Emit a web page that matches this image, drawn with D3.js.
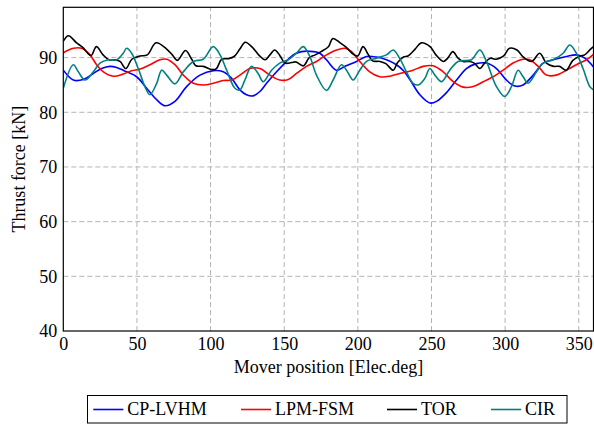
<!DOCTYPE html>
<html lang="en">
  <head>
    <meta charset="utf-8">
    <title>Thrust force</title>
    <style>
      body { margin: 0; background: #fff; }
      svg { display: block; font-family: 'Liberation Serif', 'DejaVu Serif', serif; }
    </style>
  </head>
  <body>
    <svg></svg>
    <script src="https://cdn.jsdelivr.net/npm/d3@7/dist/d3.min.js"></script>
    <script>
    // series names / colours
    var seriesNames = ['CP-LVHM', 'LPM-FSM', 'TOR', 'CIR'];
    var seriesColors = ['#0000ff', '#ff0000', '#000000', '#008080'];

    var xTicks = [0, 50, 100, 150, 200, 250, 300, 350];
    var yTicks = [40, 50, 60, 70, 80, 90];

    // [mover position, thrust force]
    var cpLvhm = [[0,87.7],[6.8,85.9],[13.6,86.0],[20.4,87.1],[26,88.0],[31.7,88.4],[36.2,88.2],[43,87.4],[49.8,86.5],[56.6,84.4],
      [63.4,82.3],[69,81.2],[75.8,82.0],[83.7,84.7],[92.8,86.8],[101.8,87.6],[108.6,87.4],[114.3,86.2],[119.9,84.1],[124.4,83.2],
      [128.9,83.0],[133.5,83.8],[138,85.3],[144.8,87.4],[150.4,89.0],[156.1,90.5],[161.7,91.1],[169.7,91.1],[174.2,90.8],[178.7,89.6],
      [185.5,87.7],[191.2,88.4],[199.1,89.3],[205.9,90.2],[212.6,90.1],[219.4,89.6],[226.2,88.7],[231,87.6],[235.3,86.0],[242.1,83.2],
      [248.9,81.7],[253.4,82.0],[260.2,83.6],[267,85.9],[273.7,88.0],[280.5,88.9],[287.3,89.0],[294.1,88.0],[300.9,85.9],[306.6,84.8],
      [312.2,85.0],[319,86.8],[325.8,89.0],[332.6,89.6],[341.6,90.2],[348.4,90.5],[354.1,89.9],[360,88.3]];

    var lpmFsm = [[0,90.9],[6.8,91.7],[12.5,91.7],[18.1,90.5],[22.6,88.7],[27.2,87.4],[34,86.6],[40.7,87.0],[46.4,87.6],[52.1,87.9],
      [58.8,88.7],[65.6,89.6],[70.2,89.7],[75.8,88.7],[81.5,86.8],[88.3,85.3],[95,85.0],[101.8,85.3],[108.6,85.8],[114.3,85.9],
      [119.9,86.8],[126.7,88.0],[133.5,88.0],[140.3,86.8],[147,85.9],[152.7,86.0],[158.3,87.1],[165.1,88.4],[171.9,89.3],[178.7,90.5],
      [185.5,91.4],[191.2,91.7],[195.7,91.1],[201.3,89.3],[208.1,87.4],[214.9,86.5],[221.7,86.6],[228.5,87.1],[237.5,87.7],[244.3,88.4],
      [251.1,88.5],[257.9,87.4],[264.7,85.6],[271.5,84.6],[278.3,84.7],[285.1,85.6],[291.8,86.5],[298.6,87.7],[305.4,89.0],[312.2,89.7],
      [316.7,89.6],[322.4,88.4],[328,86.8],[334.8,86.8],[341.6,87.7],[348.4,88.7],[355.2,89.6],[360,90.6]];

    var tor = [[0,93.0],[3.5,94.0],[9,92.7],[13,91.9],[17,90.7],[19,90.4],[22.5,92.0],[27,90.5],[31,89.6],[35,89.6],
      [38.5,89.3],[42.5,88.0],[46.5,89.7],[52,90.3],[57,90.5],[63,92.7],[70,91.6],[74,90.5],[77.5,89.5],[83,91.3],
      [87,89.8],[90,88.5],[95,88.4],[101,87.8],[104,88.0],[107.5,89.7],[112,89.8],[116,90.2],[120,91.6],[123.5,92.8],
      [129,91.7],[133,90.4],[137,89.6],[140,90.4],[143.5,91.4],[147,90.4],[150.5,89.0],[155,89.1],[158,89.2],[163,88.5],
      [167,90.0],[171,90.5],[175,91.1],[180,92.0],[183,93.5],[188,92.7],[192,91.9],[197,90.6],[200,90.3],[203.5,92.0],
      [207,90.6],[210,89.4],[215,89.3],[219,88.9],[224,87.7],[227,89.1],[231,90.1],[234,90.3],[239,91.6],[243,92.7],
      [249,92.0],[253,90.5],[258,89.3],[261,89.9],[264.5,91.1],[268,89.9],[271.5,89.3],[276,89.3],[279,89.0],[283,88.0],
      [286,89.0],[290,89.9],[294,89.7],[299,90.3],[303,91.7],[308,91.4],[312,90.2],[318,89.3],[323.5,90.8],[328,89.0],
      [333,88.4],[337,88.4],[341.5,87.7],[346,89.5],[351,90.3],[354,90.5],[357.5,91.4],[360,92.0]];

    var cir = [[0,84.4],[6.8,88.7],[10.2,87.4],[14.7,85.9],[20.4,87.4],[24.9,89.0],[30.6,89.6],[36.2,89.6],[40.7,90.8],[43,91.7],
      [46.4,90.8],[50.9,88.0],[55.4,84.7],[58.8,83.2],[63.4,85.3],[66.8,87.7],[70.2,86.8],[75.8,85.2],[81.5,87.4],[88.3,89.3],
      [95,89.7],[101.8,92.0],[106.4,90.5],[110.9,87.7],[116.5,84.4],[119.9,84.1],[123.3,85.9],[127.8,88.4],[132.3,87.1],[135.7,85.6],
      [141.4,87.7],[147,89.0],[152.7,89.6],[158.3,90.8],[162.9,92.0],[167.4,90.2],[171.9,86.8],[178.7,84.0],[183.2,85.9],[188.9,88.7],
      [192.3,87.7],[196.8,85.9],[201.3,87.7],[205.9,89.3],[212.6,89.9],[219.4,90.5],[224,91.4],[228.5,89.8],[233,87.4],[237.5,85.3],
      [241,85.0],[245.5,86.2],[248.9,88.0],[252.3,86.8],[256.8,85.6],[262.4,87.7],[268.1,89.3],[277.1,89.6],[282.8,91.4],[287.3,89.3],
      [294.1,84.7],[299.8,82.9],[304.3,84.7],[308.8,87.7],[312.2,86.5],[315.6,85.3],[321.3,87.4],[325.8,89.0],[332.6,89.6],[339.4,90.8],
      [343.9,92.3],[348.4,90.8],[352.9,88.0],[357.5,84.7],[360,84.1]];

    var allSeries = [cpLvhm, lpmFsm, tor, cir];

    var width = 594, height = 424;
    // plot box (note: "top" is taken by window.top, so use own names)
    var plotL = 63.3, plotR = 593.5, plotT = 7.3, plotB = 331;

    var svg = d3.select('svg').attr('width', width).attr('height', height);

    var x = d3.scaleLinear().domain([0, 360]).range([plotL, plotR]);
    var y = d3.scaleLinear().domain([40, 99.2]).range([plotB, plotT]);

    // grid
    var grid = svg.append('g').attr('stroke', '#b4b4b4').attr('stroke-width', 1).attr('stroke-dasharray', '5,3');
    grid.selectAll('line.gx')
      .data(xTicks.filter(function(d){ return d > 0; }))
      .enter().append('line')
      .attr('x1', function(d){ return x(d); }).attr('x2', function(d){ return x(d); })
      .attr('y1', plotB).attr('y2', plotT);
    grid.selectAll('line.gy')
      .data(yTicks.filter(function(d){ return d > 40; }))
      .enter().append('line')
      .attr('y1', function(d){ return y(d); }).attr('y2', function(d){ return y(d); })
      .attr('x1', plotL).attr('x2', plotR);

    // curves
    svg.append('clipPath').attr('id', 'plotclip')
      .append('rect').attr('x', plotL).attr('y', plotT).attr('width', plotR - plotL).attr('height', plotB - plotT);

    var line = d3.line()
      .x(function(d){ return x(d[0]); })
      .y(function(d){ return y(d[1]); })
      .curve(d3.curveCatmullRom.alpha(0.5));

    svg.append('g').attr('clip-path', 'url(#plotclip)')
      .selectAll('path')
      .data(allSeries)
      .enter().append('path')
      .attr('d', line)
      .attr('fill', 'none')
      .attr('stroke', function(d, i){ return seriesColors[i]; })
      .attr('stroke-width', 1.6)
      .attr('stroke-linejoin', 'round');

    // axes (labels only, frame drawn separately)
    var xAxis = d3.axisBottom(x).tickValues(xTicks).tickSize(0).tickPadding(6).tickFormat(d3.format('d'));
    var gx = svg.append('g').attr('transform', 'translate(0,' + plotB + ')').call(xAxis);
    var yAxis = d3.axisLeft(y).tickValues(yTicks).tickSize(0).tickPadding(6).tickFormat(d3.format('d'));
    var gy = svg.append('g').attr('transform', 'translate(' + plotL + ',0)').call(yAxis);
    [gx, gy].forEach(function(g){
      g.select('.domain').remove();
      g.selectAll('text').attr('font-family', "'Liberation Serif', serif").attr('font-size', 18).attr('fill', '#000');
    });

    svg.append('rect')
      .attr('x', plotL).attr('y', plotT).attr('width', plotR - plotL).attr('height', plotB - plotT)
      .attr('fill', 'none').attr('stroke', '#000').attr('stroke-width', 1.2);

    // axis titles
    svg.append('text')
      .attr('x', (plotL + plotR) / 2).attr('y', 373)
      .attr('text-anchor', 'middle').attr('font-size', 18)
      .text('Mover position [Elec.deg]');
    svg.append('text')
      .attr('transform', 'translate(25,' + ((plotT + plotB) / 2) + ') rotate(-90)')
      .attr('text-anchor', 'middle').attr('font-size', 18)
      .text('Thrust force [kN]');

    // legend
    var legendX = [93.3, 241, 387, 491];
    var legend = svg.append('g');
    legend.append('rect')
      .attr('x', 87.5).attr('y', 395.5).attr('width', 479.5).attr('height', 27.5)
      .attr('fill', '#fff').attr('stroke', '#000').attr('stroke-width', 1);
    var items = legend.selectAll('g.item')
      .data(seriesNames)
      .enter().append('g')
      .attr('transform', function(d, i){ return 'translate(' + legendX[i] + ',409.5)'; });
    items.append('line')
      .attr('x1', 0).attr('x2', 30).attr('y1', 0).attr('y2', 0)
      .attr('stroke', function(d, i){ return seriesColors[i]; })
      .attr('stroke-width', 1.6);
    items.append('text')
      .attr('x', 34).attr('y', 5.5)
      .attr('font-size', 18)
      .text(function(d){ return d; });
    </script>
  </body>
</html>
